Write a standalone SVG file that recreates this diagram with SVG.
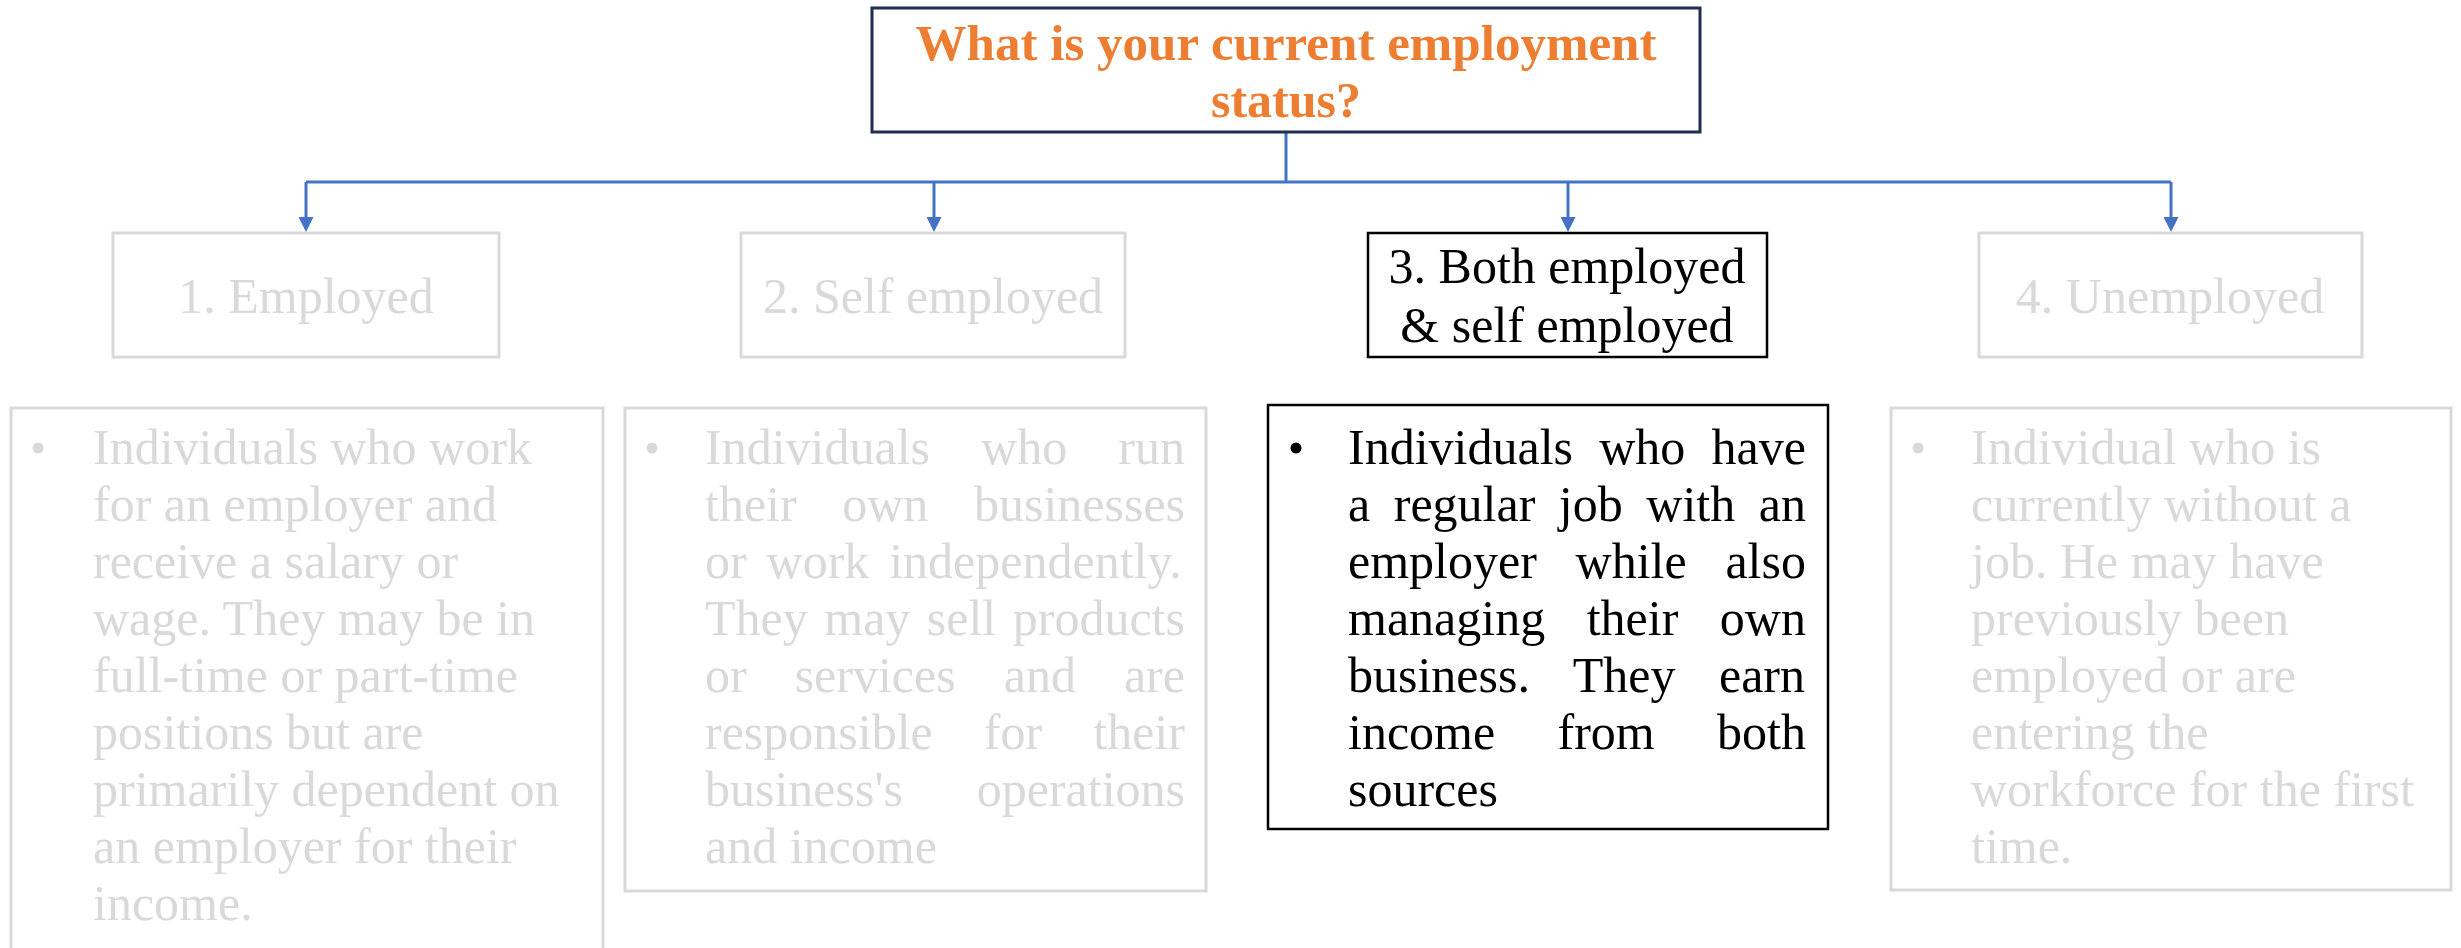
<svg xmlns="http://www.w3.org/2000/svg" width="2461" height="948" viewBox="0 0 2461 948">
  <style>
    .t { font-family: "Liberation Serif", "Times New Roman", serif; font-size: 50px; }
    .title { font-weight: bold; fill: #ED7D31; text-anchor: middle; }
    .mid { text-anchor: middle; }
    .muted { fill: #D9D9D9; }
    .dark { fill: #000000; }
    .box-muted { fill: #FFFFFF; stroke: #D9D9D9; stroke-width: 3; }
    .box-dark { fill: #FFFFFF; stroke: #000000; stroke-width: 2.5; }
    .box-title { fill: #FFFFFF; stroke: #1F2D50; stroke-width: 3; }
    .link { fill: none; stroke: #4472C4; stroke-width: 3; }
  </style>
  <defs>
    <marker id="arrow" markerUnits="userSpaceOnUse" markerWidth="15" markerHeight="15" refX="8" refY="7.5" orient="auto">
      <path d="M0,0 L15,7.5 L0,15 Z" fill="#4472C4"/>
    </marker>
  </defs>

  <rect width="2461" height="948" fill="#FFFFFF"/>

  <!-- connectors -->
  <g id="connectors">
    <path class="link" d="M1286,132 V182"/>
    <path class="link" d="M306,182 H2171"/>
    <path class="link" d="M306,182 V225" marker-end="url(#arrow)"/>
    <path class="link" d="M934,182 V225" marker-end="url(#arrow)"/>
    <path class="link" d="M1568,182 V225" marker-end="url(#arrow)"/>
    <path class="link" d="M2171,182 V225" marker-end="url(#arrow)"/>
  </g>

  <!-- question -->
  <g id="question">
    <rect class="box-title" x="872" y="8" width="828" height="124"/>
    <text class="t title" x="1286" y="60" textLength="741" lengthAdjust="spacingAndGlyphs">What is your current employment</text>
    <text class="t title" x="1286" y="117">status?</text>
  </g>

  <!-- status options -->
  <g id="employed">
    <rect class="box-muted" x="113" y="233" width="386" height="124"/>
    <text class="t mid muted" x="306" y="313">1. Employed</text>
  </g>
  <g id="self-employed">
    <rect class="box-muted" x="741" y="233" width="384" height="124"/>
    <text class="t mid muted" x="933" y="313">2. Self employed</text>
  </g>
  <g id="both">
    <rect class="box-dark" x="1368" y="233" width="399" height="124"/>
    <text class="t mid dark" x="1567" y="283">3. Both employed</text>
    <text class="t mid dark" x="1567" y="342">&amp; self employed</text>
  </g>
  <g id="unemployed">
    <rect class="box-muted" x="1979" y="233" width="383" height="124"/>
    <text class="t mid muted" x="2170" y="313">4. Unemployed</text>
  </g>

  <!-- descriptions -->
  <g id="employed-desc">
    <rect class="box-muted" x="11" y="408" width="592" height="560"/>
    <circle class="muted" cx="38" cy="448" r="5.5"/>
    <text class="t muted" x="93" y="464">Individuals who work</text>
    <text class="t muted" x="93" y="521">for an employer and</text>
    <text class="t muted" x="93" y="578">receive a salary or</text>
    <text class="t muted" x="93" y="635">wage. They may be in</text>
    <text class="t muted" x="93" y="692">full-time or part-time</text>
    <text class="t muted" x="93" y="749">positions but are</text>
    <text class="t muted" x="93" y="806">primarily dependent on</text>
    <text class="t muted" x="93" y="863">an employer for their</text>
    <text class="t muted" x="93" y="920">income.</text>
  </g>

  <g id="self-employed-desc">
    <rect class="box-muted" x="625" y="408" width="581" height="483"/>
    <circle class="muted" cx="652" cy="448" r="5.5"/>
    <text class="t muted" x="705" y="464" word-spacing="38.6">Individuals who run</text>
    <text class="t muted" x="705" y="521" word-spacing="33.1">their own businesses</text>
    <text class="t muted" x="705" y="578" word-spacing="7.4">or work independently.</text>
    <text class="t muted" x="705" y="635" word-spacing="4">They may sell products</text>
    <text class="t muted" x="705" y="692" word-spacing="35.5">or services and are</text>
    <text class="t muted" x="705" y="749" word-spacing="38.6">responsible for their</text>
    <text class="t muted" x="705" y="806" word-spacing="61.3">business's operations</text>
    <text class="t muted" x="705" y="863">and income</text>
  </g>

  <g id="both-desc">
    <rect class="box-dark" x="1268" y="405" width="560" height="424"/>
    <circle class="dark" cx="1296" cy="448" r="5.5"/>
    <text class="t dark" x="1348" y="464" word-spacing="13.75">Individuals who have</text>
    <text class="t dark" x="1348" y="521" word-spacing="11.05">a regular job with an</text>
    <text class="t dark" x="1348" y="578" word-spacing="26.25">employer while also</text>
    <text class="t dark" x="1348" y="635" word-spacing="29">managing their own</text>
    <text class="t dark" x="1348" y="692" word-spacing="31.1">business. They earn</text>
    <text class="t dark" x="1348" y="749" word-spacing="49.85">income from both</text>
    <text class="t dark" x="1348" y="806">sources</text>
  </g>

  <g id="unemployed-desc">
    <rect class="box-muted" x="1891" y="408" width="560" height="482"/>
    <circle class="muted" cx="1918" cy="448" r="5.5"/>
    <text class="t muted" x="1971" y="464">Individual who is</text>
    <text class="t muted" x="1971" y="521">currently without a</text>
    <text class="t muted" x="1971" y="578">job. He may have</text>
    <text class="t muted" x="1971" y="635">previously been</text>
    <text class="t muted" x="1971" y="692">employed or are</text>
    <text class="t muted" x="1971" y="749">entering the</text>
    <text class="t muted" x="1971" y="806">workforce for the first</text>
    <text class="t muted" x="1971" y="863">time.</text>
  </g>
</svg>
